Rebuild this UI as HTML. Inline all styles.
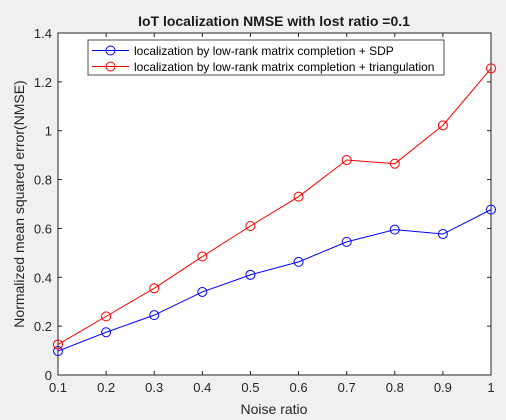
<!DOCTYPE html>
<html><head><meta charset="utf-8"><style>
body{margin:0;background:#f0f0f0;}
svg{display:block;font-family:"Liberation Sans",Arial,sans-serif;}
</style></head><body>
<svg id="chart" width="506" height="420">
<rect width="506" height="420" fill="#f0f0f0"/>
<rect x="58" y="33" width="433" height="342" fill="#fff"/>
<text x="274" y="26" text-anchor="middle" font-size="14" font-weight="bold" fill="#1a1a1a">IoT localization NMSE with lost ratio =0.1</text>
<text x="274" y="414" text-anchor="middle" font-size="14" fill="#262626">Noise ratio</text>
<text transform="translate(24,204) rotate(-90)" text-anchor="middle" font-size="14" fill="#262626">Normalized mean squared error(NMSE)</text>
<g id="axes"></g>
<g id="series"></g>
<g>
<rect x="88" y="40" width="356" height="35" fill="#fff" stroke="#262626" stroke-width="0.8"/>
<g>
<line x1="92" y1="50.5" x2="129" y2="50.5" stroke="#0000ff"/><circle cx="110.5" cy="50.5" r="4.5" fill="none" stroke="#0000ff"/>
<text x="134" y="55" font-size="12" fill="#000">localization by low-rank matrix completion + SDP</text></g>
<g>
<line x1="92" y1="66.5" x2="129" y2="66.5" stroke="#ff0000"/><circle cx="110.5" cy="66.5" r="4.5" fill="none" stroke="#ff0000"/>
<text x="134" y="71" font-size="12" fill="#000">localization by low-rank matrix completion + triangulation</text></g>
</g>
</svg>
<script>
const xValues=[0.1,0.2,0.3,0.4,0.5,0.6,0.7,0.8,0.9,1.0];
const sdpValues=[0.098,0.175,0.245,0.34,0.41,0.463,0.545,0.595,0.577,0.677];
const triValues=[0.125,0.24,0.355,0.485,0.61,0.73,0.88,0.865,1.022,1.255];
const xTicks=[0.1,0.2,0.3,0.4,0.5,0.6,0.7,0.8,0.9,1];
const xTickLabels=["0.1","0.2","0.3","0.4","0.5","0.6","0.7","0.8","0.9","1"];
const yTicks=[0,0.2,0.4,0.6,0.8,1,1.2,1.4];
const yTickLabels=["0","0.2","0.4","0.6","0.8","1","1.2","1.4"];
const L=58,R=491,T=33,B=375;
const xs=v=>L+(v-0.1)/0.9*(R-L);
const ys=v=>B-v/1.4*(B-T);
const NS="http://www.w3.org/2000/svg";
function mk(tag,attrs,parent){const e=document.createElementNS(NS,tag);for(const k in attrs)e.setAttribute(k,attrs[k]);parent.appendChild(e);return e;}
const ax=document.getElementById('axes');
xTicks.forEach((t,i)=>{const x=xs(t);
 const l=mk('line',{x1:x,x2:x,y1:B,y2:B-4,stroke:'#262626'},ax);
 
 
 const l2=mk('line',{x1:x,x2:x,y1:T,y2:T+4,stroke:'#262626'},ax);
 
 
 const tx=mk('text',{x:x,y:B+17,'text-anchor':'middle','font-size':13,fill:'#262626'},ax);tx.textContent=xTickLabels[i];
 
 
});
yTicks.forEach((t,i)=>{const y=ys(t);
 const l=mk('line',{x1:L,x2:L+4,y1:y,y2:y,stroke:'#262626'},ax);
 
 
 const l2=mk('line',{x1:R,x2:R-4,y1:y,y2:y,stroke:'#262626'},ax);
 
 
 const tx=mk('text',{x:L-6,y:y+5,'text-anchor':'end','font-size':13,fill:'#262626'},ax);tx.textContent=yTickLabels[i];
 
 
});
const box=mk('rect',{x:L,y:T,width:R-L,height:B-T,fill:'none',stroke:'#262626','stroke-width':1},ax);


const sg=document.getElementById('series');
function drawSeries(vals,color,name){
 const p=mk('polyline',{points:vals.map((v,i)=>xs(xValues[i])+','+ys(v)).join(' '),fill:'none',stroke:color,'stroke-width':1},sg);
 
 
 vals.forEach((v,i)=>{const c=mk('circle',{cx:xs(xValues[i]),cy:ys(v),r:4.5,fill:'none',stroke:color},sg);
  
  });
}
drawSeries(sdpValues,'#0000ff','sdp');
drawSeries(triValues,'#ff0000','triangulation');
</script>
</body></html>
